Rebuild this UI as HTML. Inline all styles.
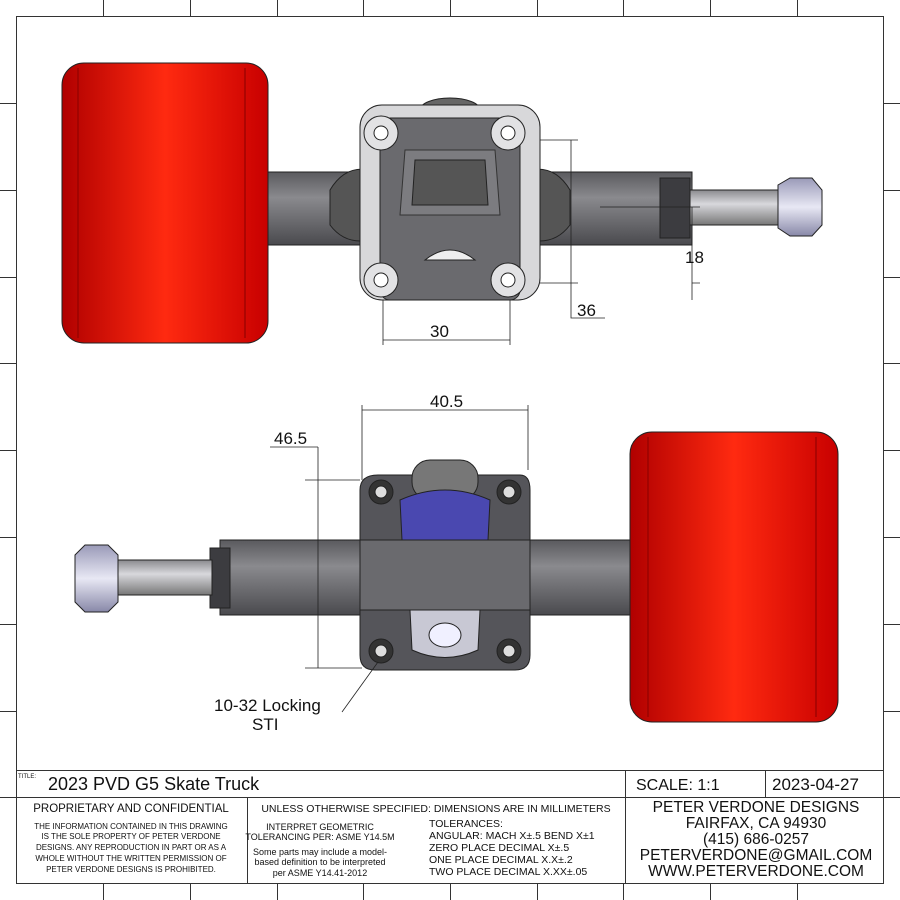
<!DOCTYPE html>
<html><head><meta charset="utf-8"><style>body{margin:0;background:#fff}svg{display:block}text{font-family:"Liberation Sans",sans-serif;fill:#111}</style></head><body>
<svg width="900" height="900" viewBox="0 0 900 900" xmlns="http://www.w3.org/2000/svg">
<defs>
<linearGradient id="red" x1="0" x2="1" y1="0" y2="0"><stop offset="0" stop-color="#b00000"/><stop offset="0.5" stop-color="#ff2a10"/><stop offset="1" stop-color="#c80000"/></linearGradient>
<linearGradient id="axle" x1="0" x2="0" y1="0" y2="1"><stop offset="0" stop-color="#5a5a5e"/><stop offset="0.35" stop-color="#8a8a8e"/><stop offset="1" stop-color="#4a4a4e"/></linearGradient>
<linearGradient id="shaft" x1="0" x2="0" y1="0" y2="1"><stop offset="0" stop-color="#8a8a8e"/><stop offset="0.4" stop-color="#d8d8dc"/><stop offset="1" stop-color="#777"/></linearGradient>
<linearGradient id="nut" x1="0" x2="0" y1="0" y2="1"><stop offset="0" stop-color="#9a9ab8"/><stop offset="0.5" stop-color="#e8e8f4"/><stop offset="1" stop-color="#8888a8"/></linearGradient>
</defs>
<g stroke="#333" stroke-width="1" fill="none">
<rect x="16.5" y="16.5" width="867" height="867"/>
<line x1="16" y1="770.5" x2="884" y2="770.5"/>
<line x1="16" y1="797.5" x2="884" y2="797.5"/>
<line x1="625.5" y1="770" x2="625.5" y2="884"/>
<line x1="765.5" y1="770" x2="765.5" y2="797"/>
<line x1="247.5" y1="797" x2="247.5" y2="884"/>
<path d="M103.5 0V16M190.5 0V16M277.5 0V16M363.5 0V16M450.5 0V16M537.5 0V16M623.5 0V16M710.5 0V16M797.5 0V16"/>
<path d="M103.5 884V900M190.5 884V900M277.5 884V900M363.5 884V900M450.5 884V900M537.5 884V900M623.5 884V900M710.5 884V900M797.5 884V900"/>
<path d="M0 103.5H16M0 190.5H16M0 277.5H16M0 363.5H16M0 450.5H16M0 537.5H16M0 624.5H16M0 711.5H16M0 797.5H16"/>
<path d="M884 103.5H900M884 190.5H900M884 277.5H900M884 363.5H900M884 450.5H900M884 537.5H900M884 624.5H900M884 711.5H900M884 797.5H900"/>
</g>

<!-- TOP VIEW -->
<g stroke="#222" stroke-width="1">
<rect x="262" y="172" width="430" height="73" fill="url(#axle)"/>
<rect x="660" y="178" width="30" height="60" fill="#3c3c40"/>
<rect x="690" y="190" width="90" height="35" fill="url(#shaft)"/>
<path d="M778 185 L790 178 L812 178 L822 190 L822 225 L812 236 L790 236 L778 228Z" fill="url(#nut)"/>
<rect x="62" y="63" width="206" height="280" rx="22" fill="url(#red)"/>
<line x1="78" y1="68" x2="78" y2="338" stroke="#800"/>
<line x1="245" y1="68" x2="245" y2="338" stroke="#800"/>
<path d="M330 190 Q345 165 370 170 L370 240 Q345 245 330 225Z" fill="#555"/>
<path d="M570 190 Q555 165 530 170 L530 240 Q555 245 570 225Z" fill="#555"/>
<ellipse cx="450" cy="110" rx="30" ry="12" fill="#666"/>
<rect x="360" y="105" width="180" height="195" rx="22" fill="#d8d8da"/>
<rect x="380" y="118" width="140" height="182" rx="10" fill="#6a6a6e"/>
<path d="M405 150 L495 150 L500 215 L400 215Z" fill="#7c7c80" stroke="#333"/>
<path d="M415 160 L485 160 L488 205 L412 205Z" fill="#555"/>
<path d="M425 260 Q450 240 475 260Z" fill="#eee"/>
<circle cx="381" cy="133" r="17" fill="#e2e2e4"/><circle cx="381" cy="133" r="7" fill="#fff"/>
<circle cx="508" cy="133" r="17" fill="#e2e2e4"/><circle cx="508" cy="133" r="7" fill="#fff"/>
<circle cx="381" cy="280" r="17" fill="#e2e2e4"/><circle cx="381" cy="280" r="7" fill="#fff"/>
<circle cx="508" cy="280" r="17" fill="#e2e2e4"/><circle cx="508" cy="280" r="7" fill="#fff"/>
</g>
<g stroke="#222" stroke-width="0.8" fill="none">
<path d="M383 300V345M510 300V345M383 340H510"/>
<path d="M540 140H578M540 283H578M571 140V283M571 283V318H605"/>
<path d="M600 207H700M700 283H692M692 207V300"/>
</g>
<text x="430" y="337" font-size="17">30</text>
<text x="577" y="316" font-size="17">36</text>
<text x="685" y="263" font-size="17">18</text>

<!-- BOTTOM VIEW -->
<g stroke="#222" stroke-width="1">
<rect x="220" y="540" width="420" height="75" fill="url(#axle)"/>
<rect x="210" y="548" width="20" height="60" fill="#3c3c40"/>
<rect x="112" y="560" width="100" height="35" fill="url(#shaft)"/>
<path d="M75 555 L85 545 L108 545 L118 555 L118 602 L108 612 L85 612 L75 602Z" fill="url(#nut)"/>
<path d="M360 490 Q360 475 378 475 L520 475 Q530 475 530 490 L530 655 Q530 670 515 670 L375 670 Q360 670 360 655Z" fill="#55555a"/>
<rect x="412" y="460" width="66" height="40" rx="18" fill="#777"/>
<path d="M400 500 Q445 480 490 500 L488 540 L402 540Z" fill="#4a48b0"/>
<rect x="360" y="540" width="170" height="70" fill="#6a6a6e"/>
<path d="M410 610 L480 610 L478 650 Q445 665 412 650Z" fill="#c8c8d4"/>
<ellipse cx="445" cy="635" rx="16" ry="12" fill="#f0f0ff"/>
<circle cx="381" cy="492" r="12" fill="#333"/><circle cx="381" cy="492" r="6" fill="#ddd"/>
<circle cx="509" cy="492" r="12" fill="#333"/><circle cx="509" cy="492" r="6" fill="#ddd"/>
<circle cx="381" cy="651" r="12" fill="#333"/><circle cx="381" cy="651" r="6" fill="#ddd"/>
<circle cx="509" cy="651" r="12" fill="#333"/><circle cx="509" cy="651" r="6" fill="#ddd"/>
<rect x="630" y="432" width="208" height="290" rx="22" fill="url(#red)"/>
<line x1="648" y1="437" x2="648" y2="717" stroke="#800"/>
<line x1="816" y1="437" x2="816" y2="717" stroke="#800"/>
</g>
<g stroke="#222" stroke-width="0.8" fill="none">
<path d="M362 410H528M362 405V480M528 405V470"/>
<path d="M270 447H318M318 447V668M305 480H360M305 668H362"/>
<path d="M342 712L378 662"/>
</g>
<text x="430" y="407" font-size="17">40.5</text>
<text x="274" y="444" font-size="17">46.5</text>
<text x="214" y="711" font-size="17">10-32 Locking</text>
<text x="252" y="730" font-size="17">STI</text>

<!-- TITLE BLOCK -->
<text x="18" y="778" font-size="6">TITLE:</text>
<text x="48" y="790" font-size="18">2023 PVD G5 Skate Truck</text>
<text x="636" y="790" font-size="16">SCALE: 1:1</text>
<text x="772" y="790" font-size="17">2023-04-27</text>
<g font-size="8" text-anchor="middle">
<text x="131" y="812" font-size="11.5">PROPRIETARY AND CONFIDENTIAL</text>
<text x="131" y="829">THE INFORMATION CONTAINED IN THIS DRAWING</text>
<text x="131" y="839">IS THE SOLE PROPERTY OF PETER VERDONE</text>
<text x="131" y="850">DESIGNS.  ANY  REPRODUCTION IN PART OR AS A</text>
<text x="131" y="861">WHOLE WITHOUT THE WRITTEN PERMISSION OF</text>
<text x="131" y="872">PETER VERDONE DESIGNS IS PROHIBITED.</text>
<text x="436" y="812" font-size="10.5">UNLESS OTHERWISE SPECIFIED: DIMENSIONS ARE IN MILLIMETERS</text>
<text x="320" y="830" font-size="9">INTERPRET GEOMETRIC</text>
<text x="320" y="840" font-size="9">TOLERANCING PER: ASME Y14.5M</text>
<text x="320" y="855" font-size="9">Some parts may include a model-</text>
<text x="320" y="865" font-size="9">based definition to be interpreted</text>
<text x="320" y="876" font-size="9">per ASME Y14.41-2012</text>
</g>
<g font-size="10.5">
<text x="429" y="827">TOLERANCES:</text>
<text x="429" y="839">ANGULAR: MACH X±.5   BEND X±1</text>
<text x="429" y="851">ZERO PLACE DECIMAL  X±.5</text>
<text x="429" y="863">ONE PLACE DECIMAL   X.X±.2</text>
<text x="429" y="875">TWO PLACE DECIMAL   X.XX±.05</text>
</g>
<g font-size="15.5" text-anchor="middle">
<text x="756" y="812">PETER VERDONE DESIGNS</text>
<text x="756" y="828">FAIRFAX, CA 94930</text>
<text x="756" y="844">(415) 686-0257</text>
<text x="756" y="860">PETERVERDONE@GMAIL.COM</text>
<text x="756" y="876">WWW.PETERVERDONE.COM</text>
</g>
</svg>
</body></html>
